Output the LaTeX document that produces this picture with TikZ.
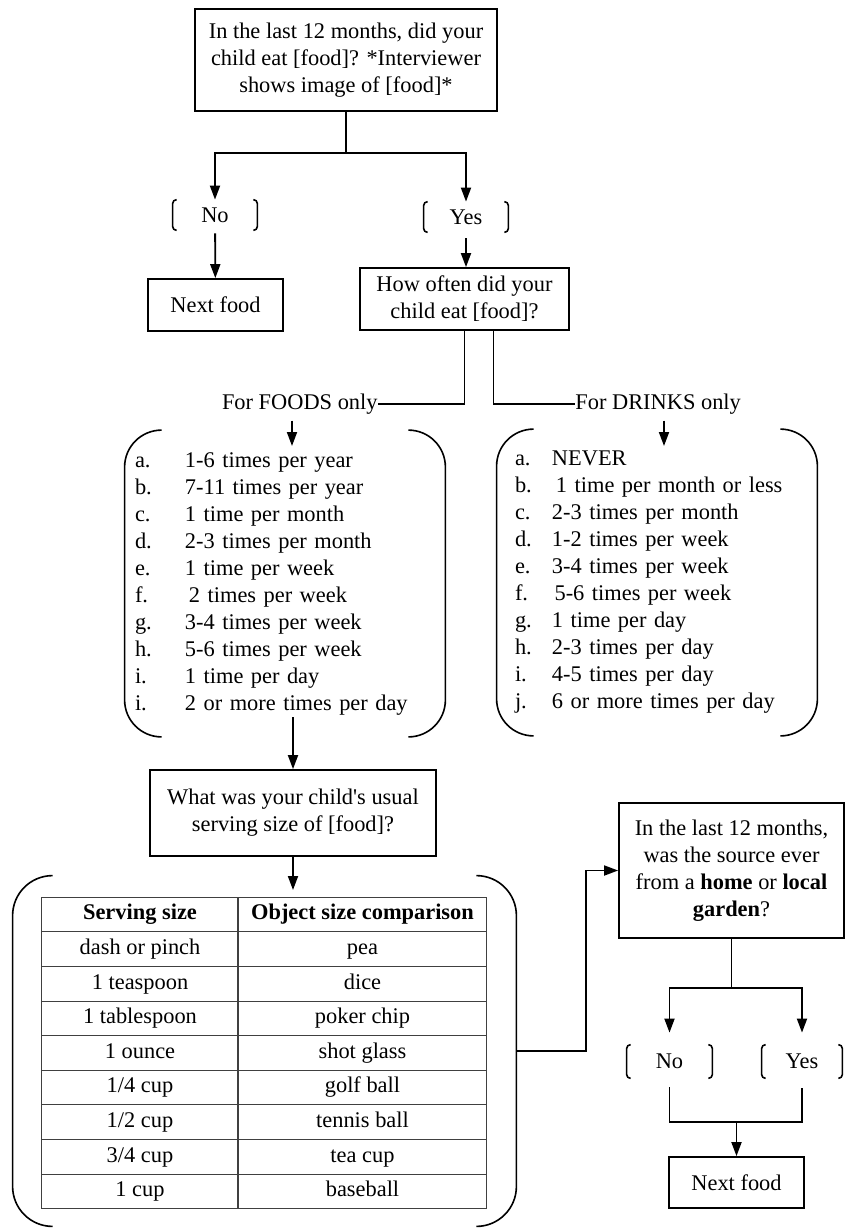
\documentclass[tikz,border=0pt]{standalone}
\usepackage{fontspec}
\setmainfont{Liberation Serif}
\usepackage{tikz}
\usetikzlibrary{arrows.meta,matrix}
% side brackets drawn on the border of a node
\newcommand{\paren}[2]{%
  \draw[brk, rounded corners=#2] ([xshift=#2]#1.north west) -- (#1.north west)
    -- (#1.south west) -- ([xshift=#2]#1.south west);
  \draw[brk, rounded corners=#2] ([xshift=-#2]#1.north east) -- (#1.north east)
    -- (#1.south east) -- ([xshift=-#2]#1.south east);}
\newcommand{\fitem}[2]{\makebox[25pt][l]{#1}#2}
\newcommand{\ditem}[2]{\makebox[18.5pt][l]{#1}#2}

\begin{document}
\begin{tikzpicture}[
  x=0.5pt, y=-0.5pt,
  every node/.style={font=\fontsize{11.2}{13.5}\selectfont},
  box/.style={draw, line width=0.9pt, align=center, inner sep=2pt},
  opt/.style={inner sep=0pt, minimum width=42pt, minimum height=15pt},
  lst/.style={align=left, inner ysep=0pt, minimum height=153pt},
  lab/.style={inner sep=0pt},
  cell/.style={draw=black!75, line width=0.5pt, minimum height=17.3pt,
               text height=7.6pt, text depth=2.4pt, inner sep=0pt, anchor=center},
  hd/.style={font=\fontsize{11.2}{13.5}\selectfont\bfseries},
  brk/.style={line width=0.8pt},
  conn/.style={line width=0.9pt},
  arr/.style={-{Triangle[length=7pt,width=5pt]}, line width=0.9pt}
]
\useasboundingbox (0,0) rectangle (845,1228);
\node[box, minimum width=151pt, minimum height=51pt] (ate) at (346,60)
  {In the last 12 months, did your\\ child eat [food]? *Interviewer\\ shows image of [food]*};
\node[opt] (no1) at (215,215) {No};
\node[opt] (yes1) at (466,217) {Yes};
\node[box, minimum width=67.5pt, minimum height=26pt] (next1) at (215.5,305) {Next food};
\node[box, minimum width=104.5pt, minimum height=31pt] (often) at (464.5,299)
  {How often did your\\ child eat [food]?};
\node[lab, anchor=east] (foodlbl) at (378,404) {For FOODS only};
\node[lab, anchor=west] (drinklbl) at (575,404) {For DRINKS only};
\node[lst, text width=150pt, inner xsep=5pt] (foods) at (285,583.5)
  {\fitem{a.}{1-6 times per year}\\
   \fitem{b.}{7-11 times per year}\\
   \fitem{c.}{1 time per month}\\
   \fitem{d.}{2-3 times per month}\\
   \fitem{e.}{1 time per week}\\
   \fitem{f.}{\hspace{2pt}2 times per week}\\
   \fitem{g.}{3-4 times per week}\\
   \fitem{h.}{5-6 times per week}\\
   \fitem{i.}{1 time per day}\\
   \fitem{i.}{2 or more times per day}};
\node[lst, text width=142pt, inner xsep=9pt] (drinks) at (657,582.5)
  {\ditem{a.}{NEVER}\\
   \ditem{b.}{\hspace{2pt}1 time per month or less}\\
   \ditem{c.}{2-3 times per month}\\
   \ditem{d.}{1-2 times per week}\\
   \ditem{e.}{3-4 times per week}\\
   \ditem{f.}{\hspace{1.3pt}5-6 times per week}\\
   \ditem{g.}{1 time per day}\\
   \ditem{h.}{2-3 times per day}\\
   \ditem{i.}{4-5 times per day}\\
   \ditem{j.}{6 or more times per day}};
\node[box, minimum width=143pt, minimum height=43pt] (serve) at (293,813)
  {What was your child\textquotesingle s usual\\ serving size of [food]?};
\node[minimum width=251.5pt, minimum height=175pt, inner sep=0pt] (servebr) at (264.5,1051) {};
\matrix (tbl) [matrix of nodes, nodes={cell}, row sep=-0.5pt, column sep=-0.5pt,
  column 1/.style={nodes={minimum width=98pt}},
  column 2/.style={nodes={minimum width=124.5pt}}] at (264.5,1053) {
  |[hd]| Serving size & |[hd]| Object size comparison \\
  dash or pinch & pea \\
  1 teaspoon & dice \\
  1 tablespoon & poker chip \\
  1 ounce & shot glass \\
  1/4 cup & golf ball \\
  1/2 cup & tennis ball \\
  3/4 cup & tea cup \\
  1 cup & baseball \\
};
\node[box, minimum width=112.5pt, minimum height=67.5pt] (garden) at (731.5,870.5)
  {In the last 12 months,\\ was the source ever\\ from a \textbf{home} or \textbf{local}\\ \textbf{garden}?};
\node[opt, minimum width=42.5pt, minimum height=16.5pt] (no2) at (669.5,1061.5) {No};
\node[opt, minimum width=40pt, minimum height=16.5pt] (yes2) at (802,1061.5) {Yes};
\node[box, minimum width=67.5pt, minimum height=25.5pt] (next2) at (736.5,1182.5) {Next food};
% brackets
\paren{no1}{2pt}
\paren{yes1}{2pt}
\paren{foods}{18.5pt}
\paren{drinks}{18.5pt}
\paren{servebr}{20pt}
\paren{no2}{2pt}
\paren{yes2}{2pt}
% connectors
\coordinate (split1) at (346,153);
\coordinate (foodin) at (292,446);
\coordinate (drinkin) at (664,446);
\coordinate (foodout) at (293,717);
\coordinate (servein) at (293,890);
\coordinate (bend) at (586,1051);
\coordinate (split2) at (731.5,988);
\coordinate (merge) at (736.5,1122);
\draw[conn] (ate) -- (split1);
\draw[arr] (split1) -| (no1);
\draw[arr] (split1) -| (yes1);
\draw[arr, shorten <=1.5pt] (no1) -- (next1);
\draw[arr, shorten <=3pt] (yes1) -- (yes1 |- often.north);
\draw[conn] (often.south) |- (foodlbl);
\draw[conn] ([xshift=14.5pt]often.south) |- (drinklbl);
\draw[arr, shorten <=3pt] (foodlbl.south -| foodin) -- (foodin);
\draw[arr, shorten <=3pt] (drinklbl.south -| drinkin) -- (drinkin);
\draw[arr] (foodout) -- (serve);
\draw[arr] (serve) -- (servein);
\draw[arr] (servebr.east) -- (bend) |- (garden.west);
\draw[conn] (garden) -- (split2);
\draw[arr, shorten >=6pt] (split2) -| (no2);
\draw[arr, shorten >=6pt] (split2) -| (yes2);
\draw[conn, shorten <=4.5pt] (no2) |- (merge);
\draw[conn, shorten <=5pt] (yes2) |- (merge);
\draw[arr] (merge) -- (next2);
\end{tikzpicture}
\end{document}
